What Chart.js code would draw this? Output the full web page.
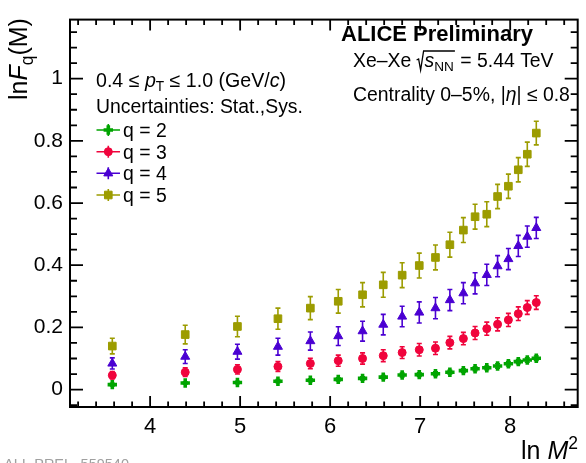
<!DOCTYPE html>
<html lang="en">
<head>
<meta charset="UTF-8">
<title>ALICE Preliminary - ln Fq(M) vs ln M2</title>
<script src="https://cdn.jsdelivr.net/npm/chart.js"></script>
<style>
  html, body { margin: 0; padding: 0; background: #fff; }
  canvas { display: block; }
</style>
</head>
<body>
<canvas id="fqChart" width="586" height="463"></canvas>
<script>
// ln M^2 of the bins (M = 6, 9, ..., 63)
const lnM2 = [3.58, 4.39, 4.97, 5.42, 5.78, 6.09, 6.36, 6.59, 6.80, 6.99,
              7.17, 7.33, 7.48, 7.61, 7.74, 7.86, 7.98, 8.09, 8.19, 8.29];

// ln F_q(M) and total uncertainties per order q
const lnF2 = [0.016, 0.021, 0.023, 0.027, 0.030, 0.033, 0.036, 0.040, 0.047, 0.048,
              0.051, 0.056, 0.061, 0.067, 0.070, 0.076, 0.083, 0.090, 0.095, 0.101];
const err2 = [0.004, 0.004, 0.004, 0.005, 0.005, 0.005, 0.005, 0.005, 0.006, 0.006,
              0.006, 0.006, 0.006, 0.006, 0.006, 0.007, 0.007, 0.007, 0.007, 0.007];

const lnF3 = [0.046, 0.056, 0.065, 0.074, 0.084, 0.093, 0.100, 0.109, 0.119, 0.128,
              0.133, 0.151, 0.164, 0.182, 0.196, 0.210, 0.224, 0.244, 0.264, 0.280];
const err3 = [0.012, 0.014, 0.015, 0.016, 0.017, 0.018, 0.018, 0.019, 0.019, 0.020,
              0.020, 0.020, 0.020, 0.021, 0.021, 0.021, 0.021, 0.022, 0.022, 0.022];

const lnF4 = [0.084, 0.106, 0.122, 0.138, 0.156, 0.172, 0.188, 0.209, 0.235, 0.248,
              0.262, 0.288, 0.310, 0.342, 0.369, 0.397, 0.420, 0.462, 0.492, 0.520];
const err4 = [0.018, 0.022, 0.024, 0.027, 0.029, 0.030, 0.032, 0.033, 0.033, 0.034,
              0.034, 0.034, 0.034, 0.034, 0.034, 0.034, 0.034, 0.034, 0.034, 0.034];

const lnF5 = [0.140, 0.177, 0.203, 0.228, 0.262, 0.284, 0.305, 0.337, 0.368, 0.399,
              0.425, 0.466, 0.513, 0.556, 0.564, 0.621, 0.654, 0.707, 0.757, 0.825];
const err5 = [0.025, 0.030, 0.033, 0.034, 0.037, 0.038, 0.039, 0.040, 0.040, 0.040,
              0.040, 0.040, 0.040, 0.040, 0.040, 0.039, 0.039, 0.039, 0.039, 0.038];

const xTicks = [4, 5, 6, 7, 8];
const yTicks = [0, 0.2, 0.4, 0.6, 0.8, 1];

const FONT = "'Liberation Sans', Arial, Helvetica, sans-serif";

const series = [
    { label: 'q = 2', values: lnF2, errors: err2, color: '#00a400', style: 'cross',    radius: 4.7, border: 3.6 },
    { label: 'q = 3', values: lnF3, errors: err3, color: '#f0043c', style: 'circle',   radius: 4,   border: 1 },
    { label: 'q = 4', values: lnF4, errors: err4, color: '#4a00d2', style: 'triangle', radius: 5.2, border: 1 },
    { label: 'q = 5', values: lnF5, errors: err5, color: '#9c9c00', style: 'rect',     radius: 5.4, border: 1 }
];

// draw a sequence of text pieces (italic / subscript / superscript) from x on baseline y
function textRuns(ctx, x, y, runs, size, measureOnly) {
    for (const r of runs) {
        let fs = size, dy = 0;
        if (r.sub) { fs = size * 0.7; dy = size * 0.22; }
        if (r.sup) { fs = size * 0.7; dy = -size * 0.4; }
        ctx.font = (r.italic ? 'italic ' : '') + (r.bold ? 'bold ' : '') + fs + 'px ' + FONT;
        if (!measureOnly) ctx.fillText(r.t, x, y + dy);
        x += ctx.measureText(r.t).width;
    }
    return x;
}

const errorBars = {
    id: 'errorBars',
    beforeDatasetsDraw(chart) {
        const { ctx, scales: { x, y } } = chart;
        ctx.save();
        ctx.lineWidth = 1.6;
        chart.data.datasets.forEach(ds => {
            ctx.strokeStyle = ds.borderColor;
            ctx.beginPath();
            ds.data.forEach((p, i) => {
                const px = x.getPixelForValue(p.x);
                const hi = y.getPixelForValue(p.y + ds.errors[i]);
                const lo = y.getPixelForValue(p.y - ds.errors[i]);
                ctx.moveTo(px, hi); ctx.lineTo(px, lo);
                ctx.moveTo(px - 2.5, hi); ctx.lineTo(px + 2.5, hi);
                ctx.moveTo(px - 2.5, lo); ctx.lineTo(px + 2.5, lo);
            });
            ctx.stroke();
        });
        ctx.restore();
    }
};

const frame = {
    id: 'frame',
    afterDraw(chart) {
        const { ctx, chartArea: a, scales: { x, y } } = chart;
        ctx.save();
        ctx.strokeStyle = '#000';
        ctx.lineWidth = 1.8;
        ctx.beginPath();
        // x ticks every 0.2, pointing inwards on bottom and top
        for (let k = 16; k <= 43; k++) {
            const px = x.getPixelForValue(k / 5);
            const len = k % 5 === 0 ? 11 : 5.5;
            ctx.moveTo(px, a.bottom); ctx.lineTo(px, a.bottom - len);
            ctx.moveTo(px, a.top); ctx.lineTo(px, a.top + len);
        }
        // y ticks every 0.05 on left and right
        for (let k = -1; k <= 23; k++) {
            const py = y.getPixelForValue(k / 20);
            const len = k % 4 === 0 ? 13 : 7;
            ctx.moveTo(a.left, py); ctx.lineTo(a.left + len, py);
            ctx.moveTo(a.right, py); ctx.lineTo(a.right - len, py);
        }
        ctx.stroke();
        ctx.lineWidth = 2;
        ctx.strokeRect(a.left, a.top, a.right - a.left, a.bottom - a.top);

        ctx.fillStyle = '#000';
        ctx.textBaseline = 'alphabetic';
        ctx.textAlign = 'left';

        // axis titles
        const xTitle = [{ t: 'ln ' }, { t: 'M', italic: true }, { t: '2', sup: true }];
        const w = textRuns(ctx, 0, 0, xTitle, 25, true);
        textRuns(ctx, 578 - w, 459, xTitle, 25);

        ctx.save();
        ctx.translate(27, 100);
        ctx.rotate(-Math.PI / 2);
        textRuns(ctx, 0, 0, [{ t: 'ln' }, { t: 'F', italic: true }, { t: 'q', sub: true }, { t: '(M)' }], 25);
        ctx.restore();

        // left block
        textRuns(ctx, 96, 86.5, [{ t: '0.4 \u2264 ' }, { t: 'p', italic: true }, { t: 'T', sub: true },
            { t: ' \u2264 1.0 (GeV/' }, { t: 'c', italic: true }, { t: ')' }], 19.6);
        textRuns(ctx, 96, 113, [{ t: 'Uncertainties: Stat.,Sys.' }], 19.4);

        const rows = [137, 158.7, 180.3, 202];
        chart.data.datasets.forEach((ds, i) => {
            const cy = rows[i] - 7;
            ctx.strokeStyle = ds.borderColor;
            ctx.fillStyle = ds.backgroundColor;
            ctx.lineWidth = 1.6;
            ctx.beginPath();
            ctx.moveTo(96.5, cy); ctx.lineTo(120, cy);
            ctx.moveTo(108.3, cy - 6); ctx.lineTo(108.3, cy + 6);
            ctx.stroke();
            ctx.lineWidth = ds.borderWidth;
            Chart.helpers.drawPoint(ctx, { pointStyle: ds.pointStyle, radius: ds.pointRadius,
                rotation: 0, borderWidth: ds.borderWidth }, 108.3, cy);
            ctx.fillStyle = '#000';
            textRuns(ctx, 123, rows[i], [{ t: ds.label }], 19.4);
        });

        // right block
        textRuns(ctx, 341, 41, [{ t: 'ALICE Preliminary', bold: true }], 22);

        let cx = textRuns(ctx, 353, 67, [{ t: 'Xe\u2013Xe ' }], 19.4);
        const sx = cx + 1;
        cx = textRuns(ctx, sx + 7, 67, [{ t: 's', italic: true }, { t: 'NN', sub: true }], 19.4);
        ctx.strokeStyle = '#000';
        ctx.lineWidth = 1.3;
        ctx.beginPath();
        ctx.moveTo(sx - 1, 60); ctx.lineTo(sx + 1, 59);
        ctx.lineTo(sx + 3, 70); ctx.lineTo(sx + 6, 51);
        ctx.lineTo(cx + 1, 51);
        ctx.stroke();
        textRuns(ctx, cx + 1, 67, [{ t: ' = 5.44 TeV' }], 19.4);

        textRuns(ctx, 353, 101, [{ t: 'Centrality 0\u20135%, |' }, { t: '\u03b7', italic: true },
            { t: '| \u2264 0.8' }], 19.4);

        // record id
        ctx.fillStyle = '#a0a0a0';
        textRuns(ctx, 4, 468.5, [{ t: 'ALI\u2212PREL\u2212559540' }], 14.5);
        ctx.restore();
    }
};

new Chart(document.getElementById('fqChart'), {
    type: 'scatter',
    data: {
        datasets: series.map(s => ({
            label: s.label,
            data: lnM2.map((v, i) => ({ x: v, y: s.values[i] })),
            errors: s.errors,
            backgroundColor: s.color,
            borderColor: s.color,
            pointStyle: s.style,
            pointRadius: s.radius,
            borderWidth: s.border
        }))
    },
    options: {
        responsive: false,
        animation: false,
        devicePixelRatio: 1,
        layout: { padding: { top: 12, right: 4, left: 0, bottom: 0 } },
        plugins: { legend: { display: false }, tooltip: { enabled: false } },
        scales: {
            x: {
                type: 'linear', min: 3.11, max: 8.75,
                grid: { display: false, drawTicks: false },
                border: { display: false },
                afterBuildTicks: s => { s.ticks = xTicks.map(v => ({ value: v })); },
                afterFit: s => { s.height = 56; },
                ticks: { color: '#000', padding: 7, autoSkip: false, maxRotation: 0,
                         font: { family: FONT, size: 22 }, callback: v => String(v) }
            },
            y: {
                type: 'linear', min: -0.056, max: 1.19,
                grid: { display: false, drawTicks: false },
                border: { display: false },
                afterBuildTicks: s => { s.ticks = yTicks.map(v => ({ value: v })); },
                afterFit: s => { s.width = 70; },
                ticks: { color: '#000', padding: 7, autoSkip: false,
                         font: { family: FONT, size: 21 }, callback: v => String(v) }
            }
        }
    },
    plugins: [errorBars, frame]
});
</script>
</body>
</html>
